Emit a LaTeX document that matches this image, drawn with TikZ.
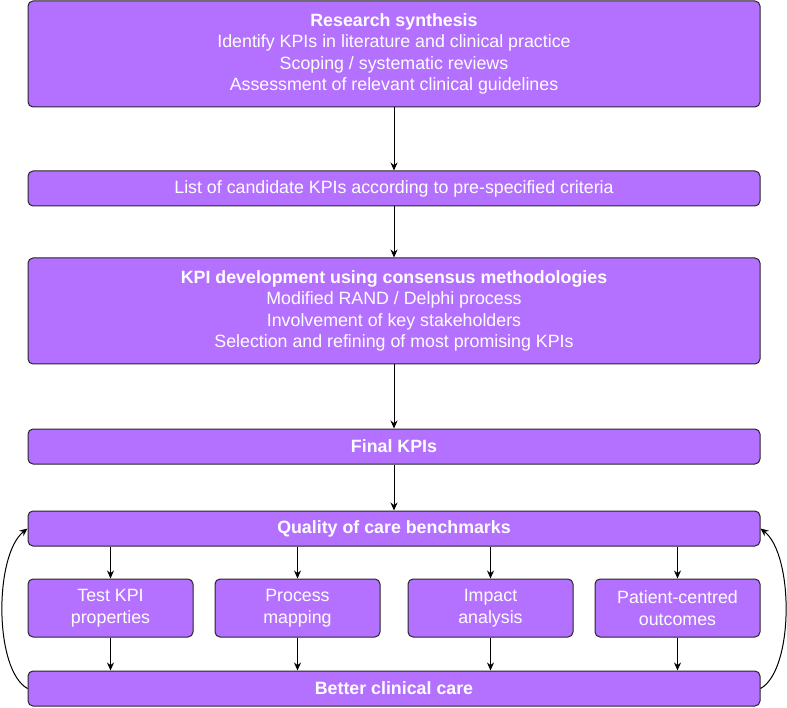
\documentclass[tikz,border=0pt]{standalone}
\usepackage{fontspec}
\setmainfont{Liberation Sans}
\usepackage{xcolor}
\usetikzlibrary{arrows.meta}
\definecolor{kpiviolet}{RGB}{180,112,255}

\begin{document}
\begin{tikzpicture}[x=1pt,y=-1pt,>={Stealth[length=8pt,width=7pt]},line width=1pt,
box/.style={draw=black!85,fill=kpiviolet,rounded corners=5pt,text=white,align=center,inner sep=0pt,font=\fontsize{17.8}{21.5}\selectfont},
wide/.style={box,minimum width=732pt},
small/.style={box,minimum width=165pt,minimum height=58pt}]
\useasboundingbox(0,0)rectangle(787,708);
\node[wide,minimum height=106pt](synth)at(394,54){\textbf{Research synthesis}\\Identify KPIs in literature and clinical practice\\Scoping / systematic reviews\\Assessment of relevant clinical guidelines};
\node[wide,minimum height=35pt](cand)at(394,188.5){List of candidate KPIs according to pre-specified criteria};
\node[wide,minimum height=106pt](devel)at(394,311){\textbf{KPI development using consensus methodologies}\\Modified RAND / Delphi process\\Involvement of key stakeholders\\Selection and refining of most promising KPIs};
\node[wide,minimum height=35pt](final)at(394,446.5){\textbf{Final KPIs}};
\node[wide,minimum height=35pt](quality)at(394,528.5){\textbf{Quality of care benchmarks}};
\node[small](test)at(110.5,608){Test KPI\\properties};
\node[small](proc)at(297.5,608){Process\\mapping};
\node[small](impact)at(490.5,608){Impact\\analysis};
\node[small](patient)at(677.5,608){Patient-centred\\outcomes};
\node[wide,minimum height=35pt](better)at(394,688.5){\textbf{Better clinical care}};
% main chain
\draw[->](synth)--(cand);
\draw[->](cand)--(devel);
\draw[->](devel)--(final);
\draw[->](final)--(quality);
% branches
\foreach \n in {test,proc,impact,patient}{
\draw[->](quality.south-|\n)--(\n);
\draw[->](\n)--(better.north-|\n);
}
% feedback loops
\draw[->](better.west)..controls(-6,670)and(-6,555)..(quality.west);
\draw[->](better.east)..controls(794,670)and(794,555)..(quality.east);
\end{tikzpicture}
\end{document}
